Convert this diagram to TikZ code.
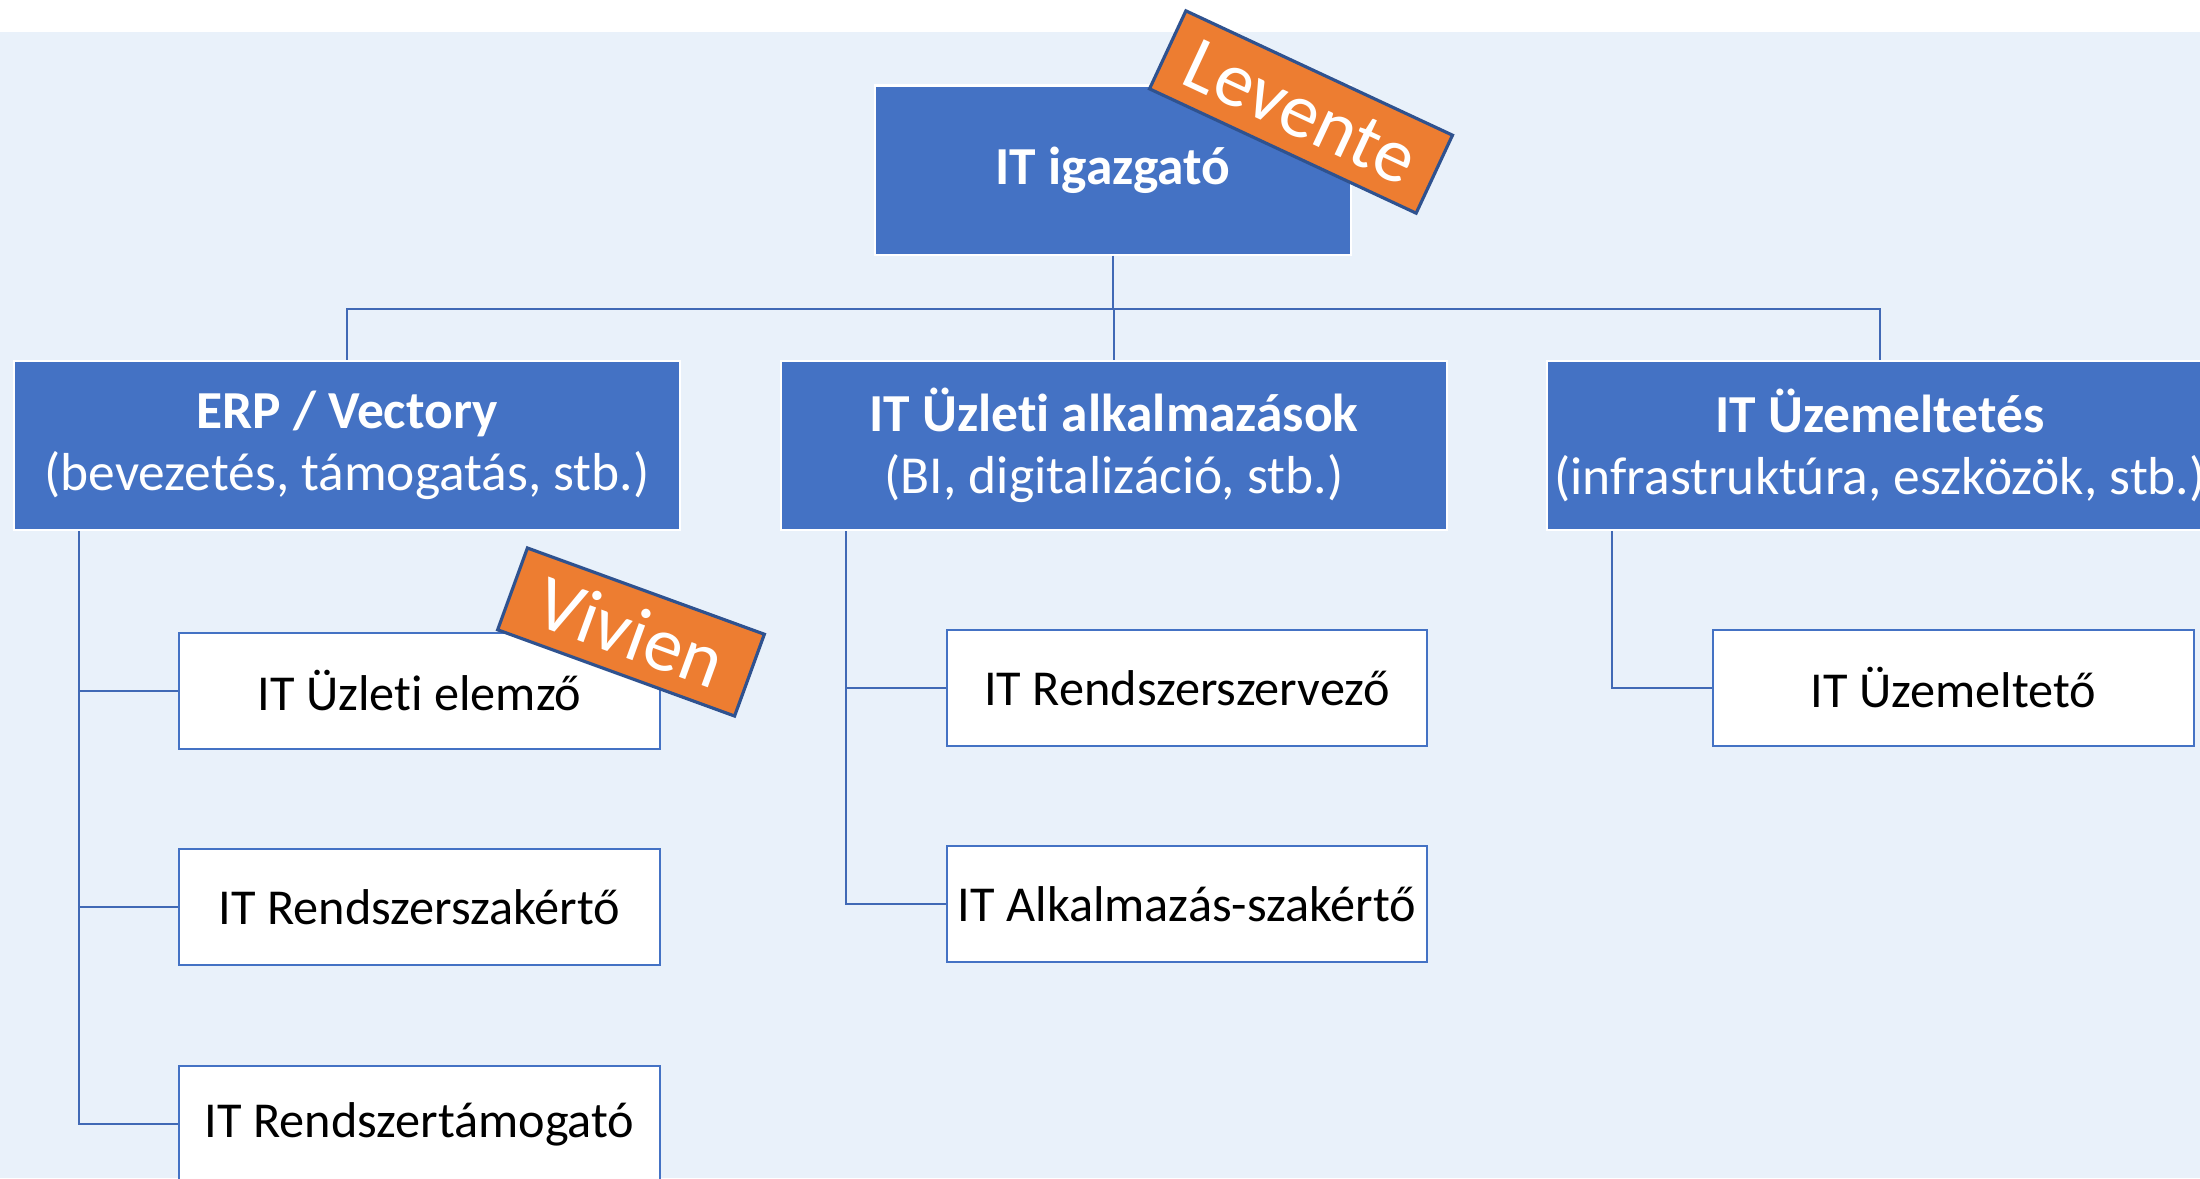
\documentclass[tikz,border=0pt]{standalone}
\usepackage{fontspec}
\setmainfont{Carlito}[Ligatures={NoCommon}]
\definecolor{boxblue}{HTML}{4472C4}
\definecolor{bgblue}{HTML}{E9F1FA}
\definecolor{tagorange}{HTML}{ED7D31}
\definecolor{tagline}{HTML}{2F528F}
\definecolor{wireblue}{HTML}{4169B5}

\begin{document}
\begin{tikzpicture}[x=0.01cm,y=-0.01cm]
   \tikzset{
      head/.style={fill=boxblue,draw=white,line width=0.6pt,text=white,align=center,
                   minimum width=6.65cm,minimum height=1.69cm,inner sep=0pt,
                   font=\fontsize{15.2}{17.5}\selectfont},
      role/.style={fill=white,draw=boxblue,line width=0.6pt,
                   minimum width=4.8cm,minimum height=1.16cm,inner sep=0pt,
                   font=\fontsize{14.3}{17}\selectfont},
      tag/.style={fill=tagorange,draw=tagline,line width=0.9pt,text=white,inner sep=0pt,
                  font=\fontsize{22}{26}\selectfont},
      wire/.style={draw=wireblue,line width=0.6pt},
   }
% Page and background
   \useasboundingbox (0,0) rectangle (2200,1178);
   \clip (0,0) rectangle (2200,1178);
   \fill [white] (0,0) rectangle (2200,32);
   \fill [bgblue] (0,32) rectangle (2200,1178);
% Director
   \node [head,minimum width=4.76cm] (boss) at (1113,170) {\bfseries IT igazgató};
% Departments
   \node [head] (erp) at (347,445.5)  {\bfseries ERP / Vectory\\(bevezetés, támogatás, stb.)};
   \node [head] (app) at (1114,445.5) {\bfseries IT Üzleti alkalmazások\\(BI, digitalizáció, stb.)};
   \node [head] (ops) at (1880,445.5) {\bfseries IT Üzemeltetés\\(infrastruktúra, eszközök, stb.)};
% Roles
   \node [role] (elemzo)  at (419.5,691)  {IT Üzleti elemző};
   \node [role] (szakerto) at (419.5,907) {IT Rendszerszakértő};
   \node [role] (tamogato) at (419.5,1124) {IT Rendszertámogató};
   \node [role] (szervezo) at (1187,688)  {IT Rendszerszervező};
   \node [role] (alkszak)  at (1187,904)  {IT Alkalmazás-szakértő};
   \node [role] (uzemelteto) at (1953.5,688) {IT Üzemeltető};
% Connectors
   \coordinate (bus) at (1113,309);
   \draw [wire] (boss) -- (bus) -| (erp);
   \draw [wire] (bus) -| (app);
   \draw [wire] (bus) -| (ops);
   \foreach \dept/\role in {erp/elemzo,erp/szakerto,erp/tamogato,app/szervezo,app/alkszak,ops/uzemelteto}
      \draw [wire] ([xshift=0.66cm]\dept.south west) |- (\role.west);
% Name tags
   \node [tag,rotate=-25,minimum width=2.94cm,minimum height=0.86cm] (levente) at (1301,112) {Levente};
   \node [tag,rotate=-20,minimum width=2.52cm,minimum height=0.87cm] (vivien) at (631,632) {Vivien};
\end{tikzpicture}
\end{document}
